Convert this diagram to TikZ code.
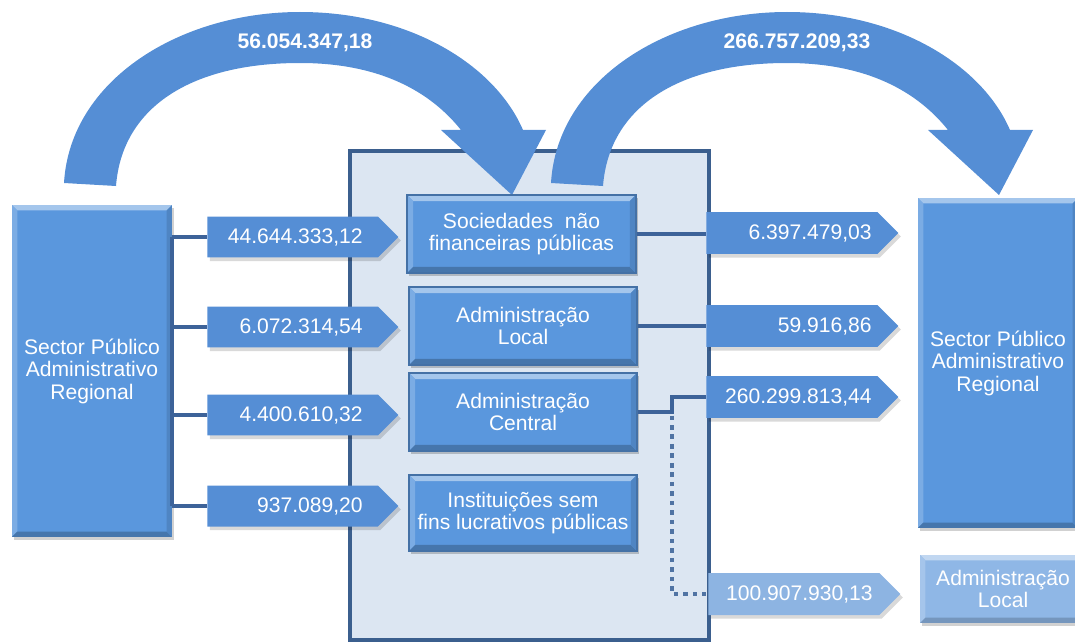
\documentclass[tikz,border=0pt]{standalone}
\usepackage{fontspec}
\setmainfont{Liberation Sans}
\usetikzlibrary{shapes.symbols,shadows,calc}
\definecolor{arrowblue}{HTML}{558ED5}
\definecolor{boxblue}{HTML}{5A97DD}
\definecolor{contfill}{HTML}{DCE6F2}
\definecolor{contline}{HTML}{3B5F8E}
\definecolor{linkblue}{HTML}{3D6399}
\definecolor{lightblue}{HTML}{8DB4E2}
\definecolor{lightbox}{HTML}{8FB7E6}
\colorlet{btop}{white!45!boxblue}
\colorlet{bleft}{white!20!boxblue}
\colorlet{bbot}{black!22!boxblue}
\colorlet{bright}{black!12!boxblue}
\begin{document}
\begin{tikzpicture}[x=0.02cm,y=-0.02cm,
  txt/.style={text=white,font=\fontsize{12}{12.8}\selectfont,align=center},
  bevel/.style={path picture={
    \fill[btop] (path picture bounding box.north west) -- (path picture bounding box.north east)
      -- ([xshift=-#1,yshift=-#1]path picture bounding box.north east)
      -- ([xshift=#1,yshift=-#1]path picture bounding box.north west) -- cycle;
    \fill[bleft] (path picture bounding box.north west) -- ([xshift=#1,yshift=-#1]path picture bounding box.north west)
      -- ([xshift=#1,yshift=#1]path picture bounding box.south west) -- (path picture bounding box.south west) -- cycle;
    \fill[bbot] (path picture bounding box.south west) -- ([xshift=#1,yshift=#1]path picture bounding box.south west)
      -- ([xshift=-#1,yshift=#1]path picture bounding box.south east) -- (path picture bounding box.south east) -- cycle;
    \fill[bright] (path picture bounding box.south east) -- ([xshift=-#1,yshift=#1]path picture bounding box.south east)
      -- ([xshift=-#1,yshift=-#1]path picture bounding box.north east) -- (path picture bounding box.north east) -- cycle;
  }},
  bigbox/.style={txt,fill=boxblue,bevel=3pt,inner sep=0pt,minimum width=3.2cm,
    drop shadow={shadow xshift=1pt,shadow yshift=-1.5pt,opacity=.18,fill=black}},
  innerbox/.style={txt,fill=boxblue,bevel=3.5pt,draw=black!25!boxblue,line width=0.8pt,inner sep=0pt,
    minimum width=4.56cm,minimum height=1.56cm,
    drop shadow={shadow xshift=1pt,shadow yshift=-1.5pt,opacity=.2,fill=black}},
  sig/.style={signal,signal to=east,signal pointer angle=90,fill=arrowblue,inner sep=0pt,
    minimum width=3.82cm,minimum height=0.82cm,anchor=west,
    drop shadow={shadow xshift=1.5pt,shadow yshift=-2pt,opacity=.15,fill=black}},
  lbl/.style={text=white,font=\fontsize{12}{12.8}\selectfont,inner sep=0pt},
  link/.style={draw=linkblue,line width=2.3pt},
  dotlink/.style={draw=linkblue!90!white,line width=2.3pt,dash pattern=on 2.6pt off 2.8pt},
  curved/.style={fill=arrowblue}
]
\useasboundingbox (0,0) rectangle (1075,642);

% container
\node[draw=contline,fill=contfill,line width=2.3pt,inner sep=0pt,minimum width=7.18cm,minimum height=9.78cm] (cont) at (529.5,395.5) {};

% curved arrows
\foreach \s in {0,487}{
  \fill[curved,shift={(\s,0)}] (64,183) .. controls (70,80) and (180,12) .. (300,12)
    .. controls (410,12) and (495,65) .. (523,130) -- (546,130) -- (512,195) -- (441,130) -- (461,130)
    .. controls (425,85) and (370,63) .. (300,63)
    .. controls (190,63) and (122,108) .. (116,186) -- cycle;
}
\node[lbl,font=\fontsize{12}{12.8}\selectfont\bfseries] (v1) at (305,43) {56.054.347,18};
\node[lbl,font=\fontsize{12}{12.8}\selectfont\bfseries] (v2) at (797,43) {266.757.209,33};

% big boxes
\node[bigbox,minimum height=6.64cm] (lbox) at (92,371) {Sector Público\\Administrativo\\Regional};
\node[bigbox,minimum height=6.6cm] (rbox) at (998,363) {Sector Público\\Administrativo\\Regional};

% left arrows
\node[sig] (a1) at (207,237) {};
\node[sig] (a2) at (207,327) {};
\node[sig] (a3) at (207,415) {};
\node[sig] (a4) at (207,506) {};
\node[lbl,anchor=east] at (363,237) {44.644.333,12};
\node[lbl,anchor=east] at (363,327) {6.072.314,54};
\node[lbl,anchor=east] at (363,415) {4.400.610,32};
\node[lbl,anchor=east] at (363,506) {937.089,20};

% left connectors
\draw[link] (lbox.east |- a1.west) -- (lbox.east |- a4.west);
\foreach \a in {a1,a2,a3,a4}{
  \draw[link] (lbox.east |- \a.west) -- (\a.west);
}

% inner boxes
\node[innerbox,minimum width=4.58cm] (soc) at (521.5,234) {Sociedades\ \ não\\financeiras públicas};
\node[innerbox] (adl) at (523,326) {Administração\\Local};
\node[innerbox] (adc) at (523,412) {Administração\\Central};
\node[innerbox,minimum height=1.52cm] (ins) at (523,513) {Instituições sem\\fins lucrativos públicas};

% right connectors
\coordinate (j) at (672,412);
\coordinate (k) at (672,594);
\draw[dotlink] ([yshift=-2pt]j) -- (k) -- (706,594);
\draw[link] (soc.east) -- (706,234);
\draw[link] (adl.east) -- (706,326);
\draw[link] (adc.east) -- (j) -- (672,397) -- (706,397);

% right arrows
\node[sig,minimum width=3.84cm,minimum height=0.84cm] (b1) at (706,233) {};
\node[sig,minimum width=3.84cm,minimum height=0.84cm] (b2) at (706,326) {};
\node[sig,minimum width=3.84cm,minimum height=0.84cm] (b3) at (706,397) {};
\node[sig,minimum width=3.84cm,minimum height=0.84cm,fill=lightblue] (b4) at (708,594) {};
\node[lbl,anchor=east] at (872,233) {6.397.479,03};
\node[lbl,anchor=east] at (872,326) {59.916,86};
\node[lbl,anchor=east] at (872,397) {260.299.813,44};
\node[lbl,anchor=east] at (873,594) {100.907.930,13};

% small local box
\begin{scope}
\colorlet{btop}{white!45!lightbox}
\colorlet{bleft}{white!20!lightbox}
\colorlet{bbot}{black!18!lightbox}
\colorlet{bright}{black!10!lightbox}
\node[bigbox,fill=lightbox,minimum width=3.32cm,minimum height=1.36cm] (loc) at (1003,589) {Administração\\Local};
\end{scope}
\end{tikzpicture}
\end{document}
